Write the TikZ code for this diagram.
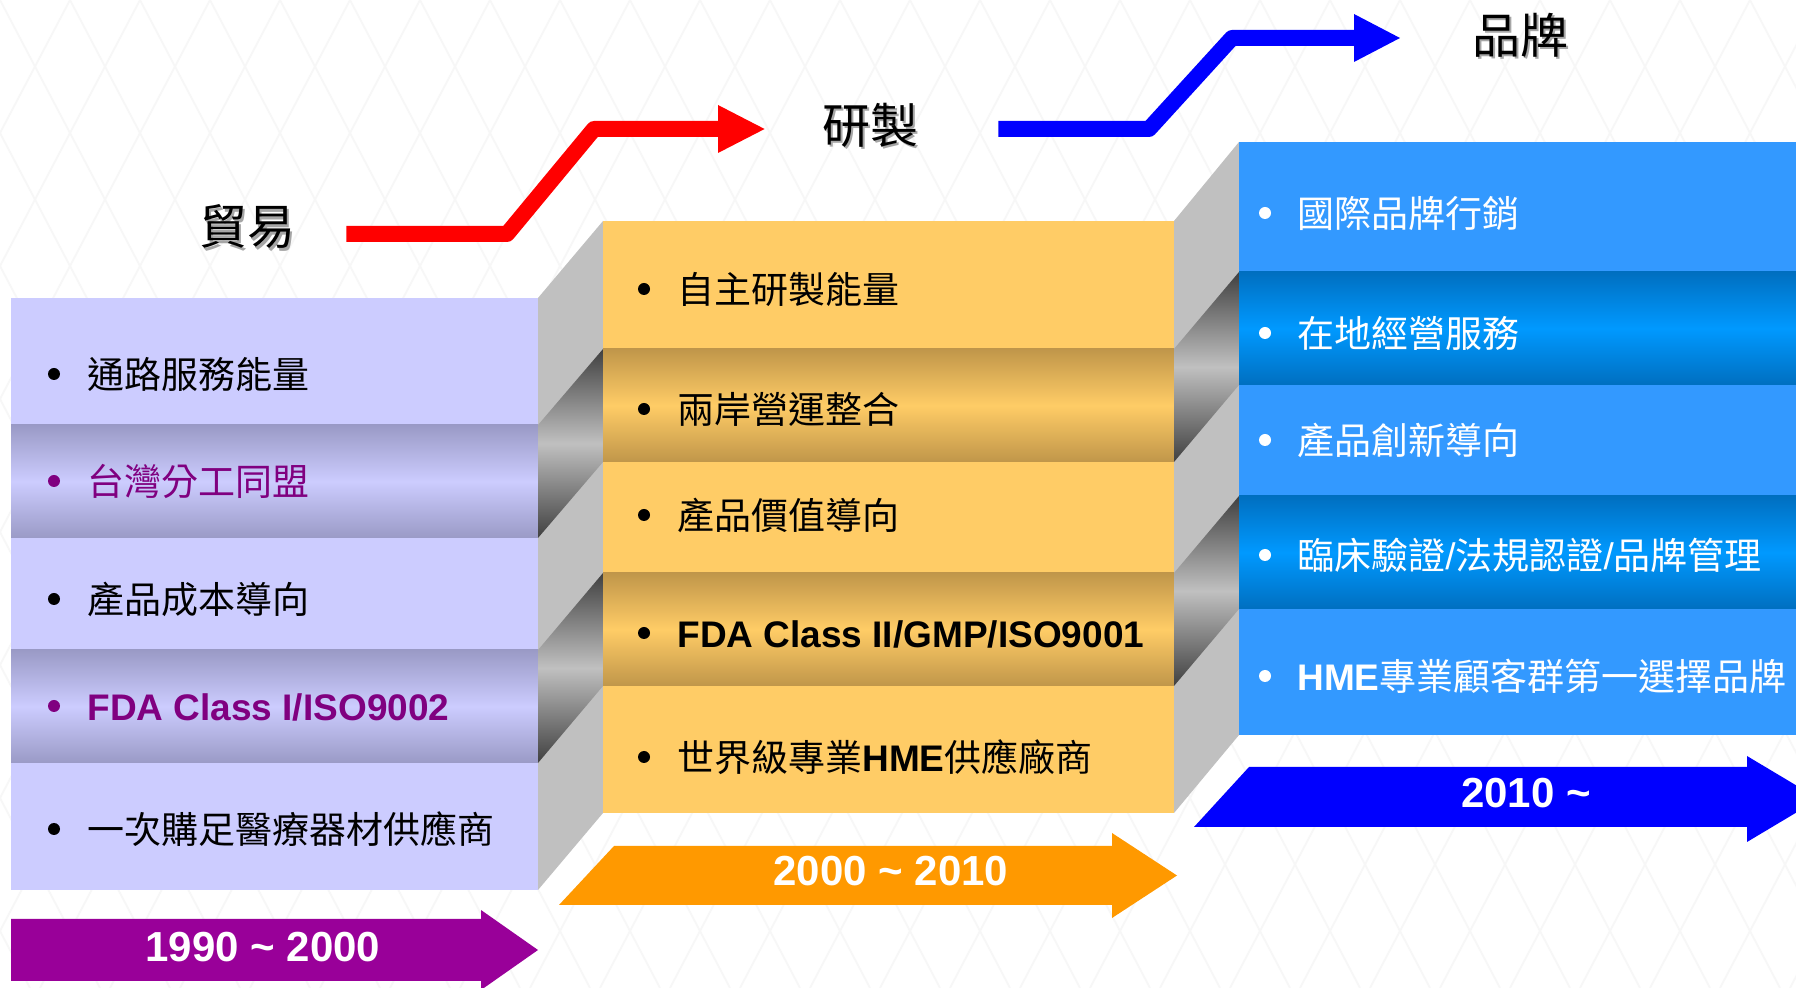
\documentclass[tikz,border=0pt]{standalone}
\usepackage{fontspec}
\setmainfont{Noto Sans CJK TC}
\newfontfamily\lat{Liberation Sans}
\usetikzlibrary{calc}
\definecolor{lav}{HTML}{CCCCFF}
\definecolor{lavdk}{HTML}{9A9AC6}
\definecolor{pur}{HTML}{800080}
\definecolor{purarr}{HTML}{990099}
\definecolor{yel}{HTML}{FFCC66}
\definecolor{yeldk}{HTML}{C0964A}
\definecolor{org}{HTML}{FF9900}
\definecolor{blu}{HTML}{3399FF}
\definecolor{bludk}{HTML}{006FC0}
\definecolor{blumid}{HTML}{0099FF}
\definecolor{bev}{HTML}{C0C0C0}
\definecolor{bevdk}{HTML}{404040}
\tikzset{
  item/.style={anchor=west, inner sep=0pt, yshift=-3.5pt, font=\fontsize{18.5}{20}\selectfont, text height=0.83em, text depth=0.07em},
  bul/.style={circle, fill=#1, draw=none, inner sep=0pt, minimum size=6pt},
  title/.style={font=\fontsize{24}{26}\selectfont, inner sep=0pt},
  tshadow/.style={title, text=black!35},
  year/.style={font=\lat\bfseries\fontsize{21}{23}\selectfont, text=white, inner sep=0pt},
  darkband/.style 2 args={top color=#1, bottom color=#1, middle color=#2},
  bevstripe/.style={top color=bevdk, bottom color=bevdk, middle color=bev},
  stair/.style={line width=8pt, line join=round, line cap=butt}
}
\begin{document}
\begin{tikzpicture}[x=0.5pt,y=-0.5pt]
\useasboundingbox (0,0) rectangle (1796,988);
\clip (0,0) rectangle (1796,988);
\fill[white] (0,0) rectangle (1796,988);
% faint background mesh
\begin{scope}[black!3, line width=0.9pt]
\foreach \i in {-700,-630,...,1800} \draw (\i,0) -- ++(520,988);
\foreach \i in {0,70,...,2500} \draw (\i,0) -- ++(-520,988);
\end{scope}

% ---------- left panel ----------
\fill[lav] (11,298) rectangle (538,425);
\shade[darkband={lavdk}{lav}] (11,425) rectangle (538,538);
\fill[lav] (11,538) rectangle (538,650);
\shade[darkband={lavdk}{lav}] (11,650) rectangle (538,763);
\fill[lav] (11,763) rectangle (538,890);

% left bevel
\fill[bev] (538,298) -- (603,221) -- (603,813) -- (538,890) -- cycle;
\shade[bevstripe] (538,425) -- (603,349) -- (603,462) -- (538,538) -- cycle;
\shade[bevstripe] (538,650) -- (603,573) -- (603,686) -- (538,763) -- cycle;

% ---------- middle panel ----------
\fill[yel] (603,221) rectangle (1174,349);
\shade[darkband={yeldk}{yel}] (603,349) rectangle (1174,462);
\fill[yel] (603,462) rectangle (1174,573);
\shade[darkband={yeldk}{yel}] (603,573) rectangle (1174,686);
\fill[yel] (603,686) rectangle (1174,813);

% right bevel
\fill[bev] (1174,221) -- (1239,142) -- (1239,735) -- (1174,813) -- cycle;
\shade[bevstripe] (1174,349) -- (1239,272) -- (1239,385) -- (1174,462) -- cycle;
\shade[bevstripe] (1174,573) -- (1239,496) -- (1239,609) -- (1174,686) -- cycle;

% ---------- right panel ----------
\fill[blu] (1239,142) rectangle (1796,272);
\shade[darkband={bludk}{blumid}] (1239,272) rectangle (1796,385);
\fill[blu] (1239,385) rectangle (1796,496);
\shade[darkband={bludk}{blumid}] (1239,496) rectangle (1796,609);
\fill[blu] (1239,609) rectangle (1796,735);

% ---------- left items ----------
\node[bul=black] (lb1) at (54,374) {};
\node[item] (l1) at (87,374) {通路服務能量};
\node[bul=pur] (lb2) at (54,481) {};
\node[item, text=pur] (l2) at (87,481) {台灣分工同盟};
\node[bul=black] (lb3) at (54,599) {};
\node[item] (l3) at (87,599) {產品成本導向};
\node[bul=pur] (lb4) at (54,706) {};
\node[item, text=pur] (l4) at (87,706) {\lat\bfseries FDA Class I/ISO9002};
\node[bul=black] (lb5) at (54,829) {};
\node[item] (l5) at (87,829) {一次購足醫療器材供應商};

% ---------- middle items ----------
\node[bul=black] (mb1) at (644,289) {};
\node[item] (m1) at (677,289) {自主研製能量};
\node[bul=black] (mb2) at (644,409) {};
\node[item] (m2) at (677,409) {兩岸營運整合};
\node[bul=black] (mb3) at (644,515) {};
\node[item] (m3) at (677,515) {產品價值導向};
\node[bul=black] (mb4) at (644,633) {};
\node[item] (m4) at (677,633) {\lat\bfseries FDA Class II/GMP/ISO9001};
\node[bul=black] (mb5) at (644,757) {};
\node[item] (m5) at (677,757) {世界級專業{\lat\bfseries HME}供應廠商};

% ---------- right items ----------
\node[bul=white] (rb1) at (1265,213) {};
\node[item, text=white] (r1) at (1297,213) {國際品牌行銷};
\node[bul=white] (rb2) at (1265,333) {};
\node[item, text=white] (r2) at (1297,333) {在地經營服務};
\node[bul=white] (rb3) at (1265,440) {};
\node[item, text=white] (r3) at (1297,440) {產品創新導向};
\node[bul=white] (rb4) at (1265,555) {};
\node[item, text=white] (r4) at (1297,555) {臨床驗證{\lat /}法規認證{\lat /}品牌管理};
\node[bul=white] (rb5) at (1265,676) {};
\node[item, text=white] (r5) at (1297,676) {{\lat\bfseries HME}專業顧客群第一選擇品牌};

% ---------- bottom year arrows ----------
\fill[purarr] (11,919) -- (481,919) -- (481,910) -- (538,950) -- (481,990) -- (481,981) -- (11,981) -- cycle;
\node[year] (y1) at (263,947) {1990 \textasciitilde\ 2000};
\fill[org] (559,905) -- (614,846) -- (1112,846) -- (1112,833) -- (1177,875.5) -- (1112,918) -- (1112,905) -- cycle;
\node[year] (y2) at (891,871) {2000 \textasciitilde\ 2010};
\fill[blue] (1194,827) -- (1249,767) -- (1747,767) -- (1747,756) -- (1819,799) -- (1747,842) -- (1747,827) -- cycle;
\node[year] (y3) at (1526,793) {2010 \textasciitilde};

% ---------- titles ----------
\node[tshadow] (trades) at (249.5,229.5) {貿易};
\node[title] (trade) at (247,227) {貿易};
\node[tshadow] (rds) at (872.5,127.5) {研製};
\node[title] (rd) at (870,125) {研製};
\node[tshadow] (brands) at (1522.5,37.5) {品牌};
\node[title] (brand) at (1520,35) {品牌};

% ---------- stair arrows ----------
\coordinate (ra) at ($(trade.east)+(51,7)$);
\coordinate (rb) at (507,234);
\coordinate (rc) at (594,129);
\coordinate (rd0) at (718,129);
\draw[red, stair] (ra) -- (rb) -- (rc) -- (rd0);
\fill[red] (718,105) -- ($(rd.west)+(-57,4)$) coordinate (rtip) -- (718,153) -- cycle;

\coordinate (ba) at ($(rd.east)+(80,4)$);
\coordinate (bb) at (1149,129);
\coordinate (bc) at (1232,38);
\coordinate (bd) at (1354,38);
\draw[blue, stair] (ba) -- (bb) -- (bc) -- (bd);
\fill[blue] (1354,14) -- (1400,38) coordinate (btip) -- (1354,62) -- cycle;
\end{tikzpicture}
\end{document}
